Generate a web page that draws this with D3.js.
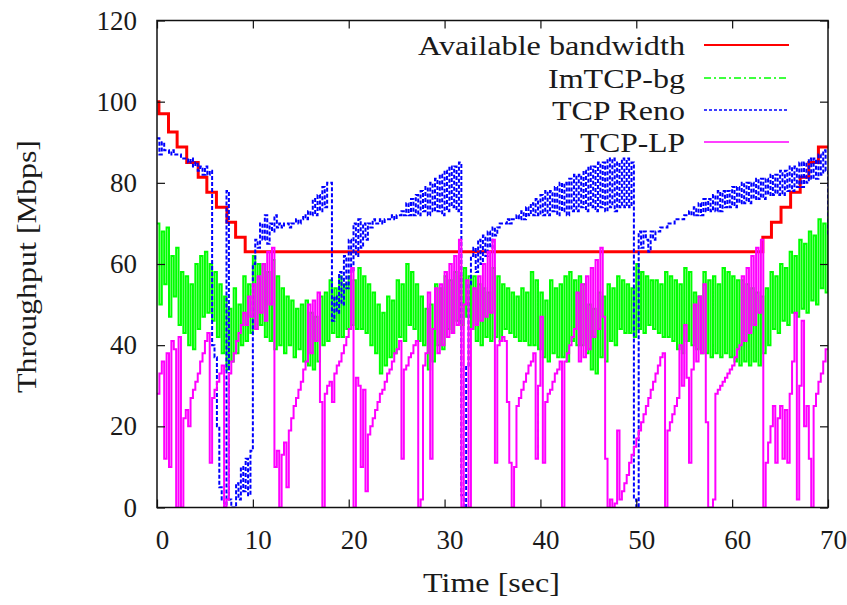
<!DOCTYPE html>
<html><head><meta charset="utf-8">
<script src="https://cdn.jsdelivr.net/npm/d3@7"></script>
<style>
body{margin:0;background:#fff}
svg{display:block}
text{font-family:"Liberation Serif","DejaVu Serif","Noto Serif",serif;fill:#1a1a1a}
</style>
</head><body>
<svg id="c" width="847" height="605"></svg>
<script>
// ---------- data ----------
const xTicks = [0, 10, 20, 30, 40, 50, 60, 70];
const yTicks = [0, 20, 40, 60, 80, 100, 120];
const seriesNames = ["Available bandwidth", "ImTCP-bg", "TCP Reno", "TCP-LP"];
const dt = 0.25; // sampling interval of the measured series [sec]

// Available bandwidth (step changes)
const redT = [0, 0.2, 1.2, 2.1, 3.1, 4.3, 5.2, 6.2, 7.3, 8.2, 9.2, 63.2, 64.1, 65.1, 66.1, 67.1, 68.0, 69.0, 70];
const redV = [100, 97, 92.5, 88.8, 85, 81.4, 77.7, 74, 70.3, 66.6, 63, 66.6, 70.3, 74, 77.7, 81.4, 85, 88.8, 88.8];

// ImTCP-bg, one row per second
const greenV = [
70,50,68,55, 69,47,62,52, 64,45,58,43, 57,40,55,39, 60,44,62,47,
63,48,60,46, 58,42,55,38, 52,34,49,36, 54,38,50,40, 57,41,55,43,
62,44,60,45, 60,42,58,41, 61,39,57,40, 54,38,52,40, 51,37,49,39,
50,36,51,35, 48,34,47,36, 52,40,53,41, 56,43,54,42, 57,42,55,44,
57,45,56,44, 59,44,57,43, 55,40,53,38, 50,33,48,35, 52,37,51,38,
56,42,55,41, 60,45,58,44, 55,41,52,40, 49,34,50,36, 55,40,54,39,
57,44,56,43, 58,46,57,45, 59,47,57,44, 57,41,55,40, 54,42,53,41,
59,42,57,41, 55,44,54,43, 53,42,52,41, 54,41,53,40, 58,40,56,39,
53,37,51,36, 56,38,54,37, 55,37,57,36, 58,41,56,40, 57,40,55,38,
50,34,49,33, 53,37,52,36, 55,41,54,40, 57,44,56,43, 55,43,54,42,
60,44,58,43, 57,45,56,44, 56,43,55,42, 58,42,57,41, 56,39,55,38,
59,41,58,40, 53,39,52,38, 58,38,56,37, 57,38,55,37, 59,38,58,37,
57,36,56,35, 56,36,55,35, 54,36,53,35, 52,38,54,40, 58,44,57,43,
60,46,59,45, 63,48,62,47, 66,49,65,48, 68,51,67,50, 71,54,70,53,
73];

// TCP Reno
const blueV = [
91,87,90,88, 88,87,88,87, 87,87,86,86, 86,85,86,84, 85,83,84,82,
84,82,83,40, 37,20,5,2, 0,78,2,0, 0,6,2,10, 4,12,3,14,
60,66,64,70, 66,72,65,70, 68,72,69,70, 69,70,70,69, 70,70,71,70,
71,72,71,73, 72,76,72,77, 73,79,74,80, 80,46,52,48, 58,50,62,54,
66,58,70,62, 71,64,70,66, 70,69,71,70, 70,71,70,71, 71,71,72,71,
72,72,73,72, 75,72,76,72, 77,72,78,73, 79,72,80,73, 81,73,82,72,
83,73,84,74, 84,73,85,3, 0,35,55,62, 64,58,66,60, 67,62,68,64,
69,67,69,70, 70,70,71,70, 71,71,72,71, 73,71,74,72, 75,72,76,72,
77,72,78,72, 78,73,79,72, 80,73,80,72, 81,73,82,73, 82,74,83,73,
84,74,84,73, 85,74,85,73, 86,74,86,73, 85,74,86,74, 86,74,85,2,
0,68,64,68, 66,63,68,66, 68,68,69,69, 69,70,70,70, 71,71,71,71,
72,72,73,72, 74,72,75,72, 76,73,76,73, 77,73,78,73, 78,74,78,74,
79,74,79,75, 80,75,80,75, 80,76,81,76, 81,76,81,77, 82,77,82,77,
83,77,83,78, 84,78,84,79, 85,79,85,80, 86,81,86,81, 87,82,88,83,
67];

// TCP-LP
const magentaV = [
28,33,36,12, 38,10,41,39, 0,42,0,22, 24,20,27,29, 31,33,36,38,
41,43,11,27, 29,31,33,35, 0,2,33,36, 38,41,43,45, 48,45,52,47,
55,44,57,48, 60,46,63,50, 64,10,14,0, 13,16,5,19, 22,25,27,29,
31,34,36,50, 38,51,41,53, 26,0,28,30, 31,26,33,35, 36,38,40,42,
44,59,0,32, 30,10,29,4, 18,20,22,24, 26,28,29,31, 33,34,36,38,
39,41,12,34, 35,37,38,40, 41,0,2,35, 38,53,12,44, 54,38,55,40,
58,42,60,43, 62,45,66,0, 50,56,0,44, 54,45,57,46, 60,47,63,48,
66,11,40,41, 42,41,26,11, 0,10,25,27, 29,31,33,35, 36,38,12,30,
47,11,26,28, 29,31,33,34, 36,0,36,38, 40,42,44,53, 36,55,37,57,
39,59,42,61, 44,64,47,12, 0,2,0,1, 19,2,4,6, 8,11,13,15,
17,19,21,23, 25,27,29,31, 33,35,37,38, 0,19,21,23, 25,27,40,30,
45,32,11,34, 50,36,52,38, 55,21,0,0, 2,28,29,30, 31,32,33,34,
35,37,39,40, 57,41,59,43, 62,45,64,48, 66,0,11,16, 20,25,11,22,
25,12,24,11, 28,36,48,2, 30,46,20,25, 12,0,25,28, 31,33,36,39,
39];

// ---------- drawing ----------
const svg = d3.select("#c");
const x = d3.scaleLinear().domain([0, 70]).range([157, 828]);
const y = d3.scaleLinear().domain([0, 120]).range([507.5, 20.5]);

const colors = ["#ff0000", "#00ff00", "#0000ff", "#ff00ff"];
const plotDash = [null, null, "4,2", null];
const legDash = [null, "7,3,2,3", "3,2", null];
const widths = [3, 2, 2, 2];

svg.append("defs").append("clipPath").attr("id", "clip")
  .append("rect").attr("x", x(0)).attr("y", y(120))
  .attr("width", x(70) - x(0)).attr("height", y(0) - y(120));

const toPts = arr => arr.map((v, i) => [i * dt, v]);
const seriesData = [
  redT.map((t, i) => [t, redV[i]]),
  toPts(greenV),
  toPts(blueV),
  toPts(magentaV)
];

const line = d3.line().x(d => x(d[0])).y(d => y(d[1])).curve(d3.curveStepAfter);

const plot = svg.append("g").attr("clip-path", "url(#clip)");
seriesData.forEach((d, i) => {
  plot.append("path").datum(d)
    .attr("d", line)
    .attr("fill", "none")
    .attr("stroke", colors[i])
    .attr("stroke-width", widths[i])
    .attr("stroke-dasharray", plotDash[i]);
});

// axes
const fs = 27;
const ff = '"Liberation Serif","DejaVu Serif","Noto Serif",serif';
const gB = svg.append("g").attr("transform", `translate(0,${y(0)})`)
  .call(d3.axisBottom(x).tickValues(xTicks).tickSize(-8).tickSizeOuter(0).tickPadding(22).tickFormat(d3.format("d")));
gB.selectAll("text").attr("x", 5);
const gT = svg.append("g").attr("transform", `translate(0,${y(120)})`)
  .call(d3.axisTop(x).tickValues(xTicks).tickSize(-8).tickSizeOuter(0).tickFormat(() => ""));
const gL = svg.append("g").attr("transform", `translate(${x(0)},0)`)
  .call(d3.axisLeft(y).tickValues(yTicks).tickSize(-8).tickSizeOuter(0).tickPadding(20).tickFormat(d3.format("d")));
const gR = svg.append("g").attr("transform", `translate(${x(70)},0)`)
  .call(d3.axisRight(y).tickValues(yTicks).tickSize(-8).tickSizeOuter(0).tickFormat(() => ""));
[gB, gT, gL, gR].forEach(g => {
  g.attr("font-family", ff).attr("font-size", fs);
  g.select(".domain").remove();
  g.selectAll(".tick line").attr("stroke", "#111").attr("stroke-width", 1.2);
  g.selectAll("text").attr("fill", "#1a1a1a").style("font-family", ff).style("font-size", fs + "px");
});

// frame
svg.append("rect").attr("x", x(0)).attr("y", y(120))
  .attr("width", x(70) - x(0)).attr("height", y(0) - y(120))
  .attr("fill", "none").attr("stroke", "#111").attr("stroke-width", 1.5);

// axis titles
svg.append("text").attr("x", 491.5).attr("y", 592).attr("text-anchor", "middle")
  .style("font-size", fs + "px").attr("textLength", 137).attr("lengthAdjust", "spacingAndGlyphs")
  .text("Time [sec]");
svg.append("text").attr("transform", "translate(36,266.5) rotate(-90)").attr("text-anchor", "middle")
  .style("font-size", fs + "px").attr("textLength", 253).attr("lengthAdjust", "spacingAndGlyphs")
  .text("Throughput [Mbps]");

// legend
const legY = [45, 78, 110, 142];
const legLen = [267, 137, 133, 105];
seriesNames.forEach((name, i) => {
  svg.append("text").attr("x", 685).attr("y", legY[i] + 10).attr("text-anchor", "end")
    .style("font-size", fs + "px").attr("textLength", legLen[i]).attr("lengthAdjust", "spacingAndGlyphs")
    .text(name);
  svg.append("line").attr("x1", 704).attr("x2", 789).attr("y1", legY[i]).attr("y2", legY[i])
    .attr("stroke", colors[i]).attr("stroke-width", i === 0 ? 2 : 1.5)
    .attr("stroke-dasharray", legDash[i]);
});
</script>
</body></html>
